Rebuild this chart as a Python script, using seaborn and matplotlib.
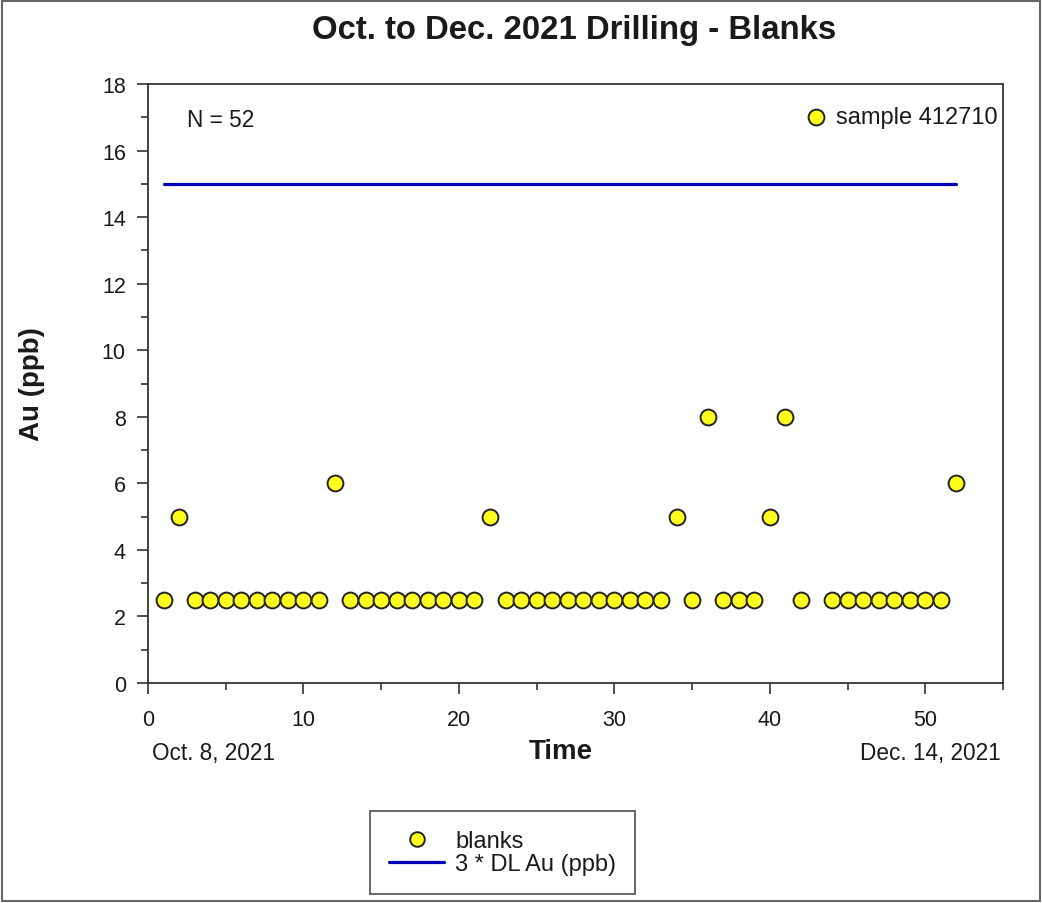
import matplotlib
matplotlib.use("Agg")
import matplotlib.pyplot as plt
from matplotlib.lines import Line2D
from matplotlib.patches import Rectangle
from matplotlib.ticker import MultipleLocator
import seaborn as sns
import pandas as pd

sns.set_theme(style="white")
plt.rcParams["font.family"] = ["Liberation Sans", "DejaVu Sans"]

# Blank sample results in order of insertion
sample_no = list(range(1, 53))
au_ppb = [2.5, 5, 2.5, 2.5, 2.5, 2.5, 2.5, 2.5, 2.5, 2.5,
          2.5, 6, 2.5, 2.5, 2.5, 2.5, 2.5, 2.5, 2.5, 2.5,
          2.5, 5, 2.5, 2.5, 2.5, 2.5, 2.5, 2.5, 2.5, 2.5,
          2.5, 2.5, 2.5, 5, 2.5, 8, 2.5, 2.5, 2.5, 5,
          8, 2.5, 17, 2.5, 2.5, 2.5, 2.5, 2.5, 2.5, 2.5,
          2.5, 6]
# Detection-limit threshold line
dl_x = [1, 52]
dl_y = [15, 15]
flag_sample = 43
flag_label = "sample 412710"
start_label = "Oct. 8, 2021"
end_label = "Dec. 14, 2021"

TXT = "#1a1a1a"
df = pd.DataFrame({"Time": sample_no, "Au": au_ppb})
dl = pd.DataFrame({"Time": dl_x, "Au": dl_y})

fig = plt.figure(figsize=(10.42, 9.04), dpi=100)
ax = fig.add_axes([148 / 1042, 1 - 684 / 904, (1003 - 148) / 1042, (684 - 85) / 904])

sns.lineplot(data=dl, x="Time", y="Au", ax=ax, color="#0000B8", linewidth=2.3, zorder=2)
sns.scatterplot(data=df, x="Time", y="Au", ax=ax, s=130, color="#FFFF1E",
                edgecolor="#222222", linewidth=1.4, zorder=3)

ax.set_xlim(0, 55)
ax.set_ylim(0, 18)
ax.xaxis.set_major_locator(MultipleLocator(10))
ax.xaxis.set_minor_locator(MultipleLocator(5))
ax.yaxis.set_major_locator(MultipleLocator(2))
ax.yaxis.set_minor_locator(MultipleLocator(1))
ax.tick_params(which="major", direction="out", length=8, width=1.1, color="#222222",
               labelsize=15.5, labelcolor=TXT, left=True, bottom=True)
ax.tick_params(axis="x", which="major", pad=11)
ax.tick_params(axis="y", which="major", pad=8)
ax.tick_params(which="minor", direction="out", length=5, width=1.1, color="#222222",
               left=True, bottom=True)
for s in ax.spines.values():
    s.set_color("#333333")
    s.set_linewidth(1.3)

ax.set_xlabel("")
ax.set_ylabel("Au (ppb)", fontsize=20, fontweight="bold", color=TXT)
ax.yaxis.set_label_coords((45 - 148) / 855, 0.5)

fig.text(574 / 1042, 1 - 31 / 904, "Oct. to Dec. 2021 Drilling - Blanks", fontsize=23.7,
         fontweight="bold", ha="center", va="center", color=TXT)

ax.text((187 - 148) / 855, 0.94, "N = 52", transform=ax.transAxes, fontsize=16.3,
        va="center", ha="left", color=TXT)
flag_y = au_ppb[sample_no.index(flag_sample)]
ax.annotate(flag_label, (flag_sample, flag_y), xytext=(14, 0), textcoords="offset points",
            fontsize=17, va="center", ha="left", color=TXT)

fig.text(152 / 1042, 1 - 754 / 904, start_label, fontsize=16.3, ha="left", va="center", color=TXT)
fig.text(1001 / 1042, 1 - 754 / 904, end_label, fontsize=16.3, ha="right", va="center", color=TXT)
fig.text(561 / 1042, 1 - 752 / 904, "Time", fontsize=20, fontweight="bold", ha="center",
         va="center", color=TXT)

# Legend box below the axes
handles = [
    Line2D([], [], marker="o", linestyle="none", markersize=10.5, markerfacecolor="#FFFF1E",
           markeredgecolor="#222222", markeredgewidth=1.4),
    Line2D([], [], color="#0000B8", linewidth=2.3),
]
leg = fig.legend(handles, ["blanks", "3 * DL Au (ppb)"], loc="upper left",
                 bbox_to_anchor=(370 / 1042, 1 - 812 / 904), fontsize=17, frameon=True,
                 fancybox=False, edgecolor="#333333", borderpad=0.8, handlelength=2.35,
                 labelspacing=0.05, borderaxespad=0, handletextpad=0.45)
leg.get_frame().set_linewidth(1.3)
for t in leg.get_texts():
    t.set_color(TXT)

# Outer border
fig.patches.append(Rectangle((0.002, 0.002), 0.996, 0.996, transform=fig.transFigure,
                             fill=False, edgecolor="#666666", linewidth=1.5))

fig.savefig("out.png", dpi=100)
